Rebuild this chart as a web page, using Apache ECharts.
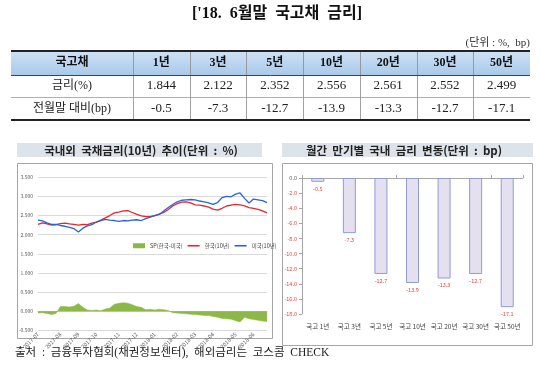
<!DOCTYPE html>
<html><head><meta charset="utf-8">
<script src="https://cdn.jsdelivr.net/npm/echarts@6/dist/echarts.min.js"></script>
<style>html,body{margin:0;padding:0;background:#fff}#c{width:540px;height:367px}</style>
</head><body><div id="c"></div>
<script>
// ---------- data ----------
const pageTitle = "['18.  6월말  국고채  금리]";
const unitText = "(단위 : %,  bp)";
const tableHead = "국고채";
const tenors = ['1년','3년','5년','10년','20년','30년','50년'];
const rowLabels = ['금리(%)','전월말 대비(bp)'];
const rates = ['1.844','2.122','2.352','2.556','2.561','2.552','2.499'];
const changes = [-0.5,-7.3,-12.7,-13.9,-13.3,-12.7,-17.1];
const barCats = ['국고 1년','국고 3년','국고 5년','국고 10년','국고 20년','국고 30년','국고 50년'];
const leftTitle = '국내외  국채금리(10년)  추이(단위  :  %)';
const rightTitle = '월간  만기별  국내  금리  변동(단위  :  bp)';
const sourceText = '출처  :  금융투자협회(채권정보센터),  해외금리는  코스콤  CHECK';
const seriesNames = ['SP(한국-미국)','한국(10년)','미국(10년)'];
const weeks = ['2017-07-03','2017-07-10','2017-07-17','2017-07-24','2017-07-31',
'2017-08-07','2017-08-14','2017-08-21','2017-08-28',
'2017-09-04','2017-09-11','2017-09-18','2017-09-25',
'2017-10-02','2017-10-09','2017-10-16','2017-10-23','2017-10-30',
'2017-11-06','2017-11-13','2017-11-20','2017-11-27',
'2017-12-04','2017-12-11','2017-12-18','2017-12-25',
'2018-01-01','2018-01-08','2018-01-15','2018-01-22','2018-01-29',
'2018-02-05','2018-02-12','2018-02-19','2018-02-26',
'2018-03-05','2018-03-12','2018-03-19','2018-03-26',
'2018-04-02','2018-04-09','2018-04-16','2018-04-23','2018-04-30',
'2018-05-07','2018-05-14','2018-05-21','2018-05-28',
'2018-06-04','2018-06-11','2018-06-18','2018-06-25'];
const monthLabels = ['2017-07','2017-08','2017-09','2017-10','2017-11','2017-12','2018-01','2018-02','2018-03','2018-04','2018-05','2018-06'];
const korea = [2.27,2.31,2.28,2.25,2.26,2.29,2.30,2.28,2.27,2.25,
2.27,2.26,2.30,2.33,2.38,2.44,2.50,2.57,2.59,2.62,
2.63,2.58,2.53,2.49,2.47,2.47,2.50,2.54,2.58,2.66,
2.75,2.81,2.85,2.86,2.83,2.78,2.77,2.75,2.72,2.67,
2.64,2.69,2.75,2.77,2.79,2.78,2.75,2.71,2.69,2.66,
2.62,2.57];
const us = [2.38,2.36,2.31,2.27,2.27,2.24,2.22,2.19,2.16,2.07,
2.17,2.23,2.26,2.33,2.37,2.40,2.38,2.37,2.35,2.37,
2.36,2.38,2.39,2.37,2.42,2.46,2.50,2.53,2.62,2.71,
2.79,2.86,2.90,2.91,2.92,2.91,2.88,2.86,2.83,2.79,
2.84,2.97,3.00,2.99,3.06,3.09,2.95,2.83,2.93,2.91,
2.89,2.84];
const spread = [-0.05,-0.04,-0.06,-0.09,-0.06,0.12,0.12,0.11,0.13,0.20,
0.10,0.03,0.02,0.03,0.01,0.06,0.08,0.18,0.21,0.22,
0.21,0.17,0.12,0.10,0.04,0.05,0.03,0.05,0.04,0.02,
-0.04,-0.05,-0.06,-0.07,-0.08,-0.09,-0.10,-0.11,-0.11,-0.14,
-0.16,-0.19,-0.20,-0.21,-0.25,-0.28,-0.16,-0.20,-0.22,-0.24,
-0.26,-0.27];

// ---------- layout / styles ----------
const SERIF = '"Liberation Serif","Noto Sans CJK KR",serif';
const SANS = '"Noto Sans CJK KR","Noto Sans",sans-serif';
const TX0 = 11, TX1 = 530, FIRSTW = 122;
const colW = (TX1 - TX0 - FIRSTW) / tenors.length;
const RY = [51, 75, 97, 120];

function txt(text, x, y, font, fill, align) {
  return {type:'text', x:x, y:y, silent:true,
    style:{text:text, font:font, fill:fill||'#111', align:align||'center', verticalAlign:'middle',
           textAlign:align||'center', textVerticalAlign:'middle'}};
}
function ln(x1,y1,x2,y2,stroke,w){
  return {type:'line', silent:true, shape:{x1:x1,y1:y1,x2:x2,y2:y2}, style:{stroke:stroke,lineWidth:w}};
}
const g = [];
g.push(txt(pageTitle, 277, 14, 'bold 16px '+SERIF, '#111'));
g.push(txt(unitText, 530, 43, '11px '+SERIF, '#333', 'right'));
// header background
g.push({type:'rect', silent:true, shape:{x:TX0,y:RY[0],width:TX1-TX0,height:RY[1]-RY[0]},
  style:{fill:{type:'linear',x:0,y:0,x2:0,y2:1,colorStops:[{offset:0,color:'#cfe2f5'},{offset:1,color:'#a9c9ea'}]}}});
// vertical separators
for (let i=0;i<tenors.length;i++){
  const x = Math.round(TX0+FIRSTW+i*colW)+0.5;
  g.push(ln(x,RY[0],x,RY[3],'#8a8a8a',0.8));
}
g.push(ln(TX0,RY[1]+0.5,TX1,RY[1]+0.5,'#444',1));
g.push(ln(TX0,RY[2]+0.5,TX1,RY[2]+0.5,'#9a9a9a',0.8));
g.push(ln(TX0,RY[0],TX1,RY[0],'#222',2));
g.push(ln(TX0,RY[3],TX1,RY[3],'#222',2));
// header texts
g.push(txt(tableHead, TX0+FIRSTW/2, (RY[0]+RY[1])/2, 'bold 12px '+SERIF, '#111'));
tenors.forEach((t,i)=>g.push(txt(t, TX0+FIRSTW+(i+0.5)*colW, (RY[0]+RY[1])/2, 'bold 12px '+SERIF, '#111')));
g.push(txt(rowLabels[0], TX0+FIRSTW/2, (RY[1]+RY[2])/2, '12px '+SERIF, '#222'));
g.push(txt(rowLabels[1], TX0+FIRSTW/2, (RY[2]+RY[3])/2, '12px '+SERIF, '#222'));
rates.forEach((r,i)=>g.push(txt(r, TX0+FIRSTW+(i+0.5)*colW, (RY[1]+RY[2])/2, '13px '+SERIF, '#222')));
changes.forEach((c,i)=>g.push(txt(c.toFixed(1), TX0+FIRSTW+(i+0.5)*colW, (RY[2]+RY[3])/2, '13px '+SERIF, '#222')));
// panel title bands
g.push({type:'rect', silent:true, shape:{x:17,y:143,width:245,height:14}, style:{fill:'#dde3ea'}});
g.push({type:'rect', silent:true, shape:{x:282,y:143,width:251,height:14}, style:{fill:'#dde3ea'}});
g.push(txt(leftTitle, 141, 150.5, 'bold 11.5px '+SANS, '#222'));
g.push(txt(rightTitle, 404, 150.5, 'bold 11.5px '+SANS, '#222'));
// chart boxes
g.push({type:'rect', silent:true, z:-1, shape:{x:17.5,y:163.5,width:255,height:175}, style:{fill:'none',stroke:'#a6a6a6',lineWidth:1}});
g.push({type:'rect', silent:true, z:-1, shape:{x:282.5,y:163.5,width:250,height:182}, style:{fill:'none',stroke:'#a6a6a6',lineWidth:1}});
// source
g.push(txt(sourceText, 15, 353, '11.5px '+SERIF, '#222', 'left'));

const chart = echarts.init(document.getElementById('c'));
chart.setOption({
  animation:false,
  backgroundColor:'#fff',
  graphic:{elements:g},
  legend:{
    left:128, top:238, itemWidth:12, itemHeight:5, itemGap:5,
    textStyle:{fontSize:5.5, color:'#404040', fontFamily:SANS},
    data:[
      {name:seriesNames[0], icon:'rect'},
      {name:seriesNames[1], icon:'path://M0,0H12V1.6H0Z'},
      {name:seriesNames[2], icon:'path://M0,0H12V1.6H0Z'}
    ]
  },
  grid:[
    {left:38, right:273, top:177.3, bottom:36.7},
    {left:302, right:17, top:178, bottom:53}
  ],
  xAxis:[
    {gridIndex:0, type:'category', data:weeks, boundaryGap:false,
     axisLine:{onZero:true, lineStyle:{color:'#c8c8c8', width:1}},
     axisTick:{show:false},
     axisLabel:{rotate:45, fontSize:5.5, color:'#595959', margin:3, fontFamily:SANS,
       interval:(idx,val)=> idx===0 || val.slice(0,7)!==weeks[idx-1].slice(0,7),
       formatter:(v)=> monthLabels.indexOf(v.slice(0,7))>=0 ? v.slice(0,7) : ''}},
    {gridIndex:1, type:'category', data:barCats,
     axisLine:{onZero:true, lineStyle:{color:'#a6a6a6'}},
     axisTick:{show:true, inside:true, length:3, lineStyle:{color:'#a6a6a6'}},
     axisLabel:{show:false}},
    {gridIndex:1, type:'category', data:barCats, position:'bottom',
     axisLine:{show:false, onZero:false}, axisTick:{show:false},
     axisLabel:{interval:0, fontSize:6.5, color:'#404040', margin:9, fontFamily:SANS}}
  ],
  yAxis:[
    {gridIndex:0, type:'value', min:-0.5, max:3.5, interval:0.5,
     axisLine:{show:false}, axisTick:{show:false},
     splitLine:{lineStyle:{color:'#d9d9d9', width:1}},
     axisLabel:{fontSize:5, color:'#595959', margin:5, fontFamily:SANS, formatter:(v)=>v.toFixed(3)}},
    {gridIndex:1, type:'value', min:-18, max:0, interval:2,
     axisLine:{show:true, lineStyle:{color:'#a6a6a6'}},
     axisTick:{show:true, length:3, lineStyle:{color:'#a6a6a6'}},
     splitLine:{show:false},
     axisLabel:{fontSize:5.5, margin:5, fontFamily:SANS,
       color:(v)=> Number(v)<0 ? '#e8453c' : '#595959',
       formatter:(v)=> (v===0?0:v).toFixed(1)}}
  ],
  series:[
    {name:seriesNames[0], type:'line', xAxisIndex:0, yAxisIndex:0, data:spread,
     showSymbol:false, symbol:'none', color:'#8cb847',
     lineStyle:{width:0.5, color:'#8cb847'}, areaStyle:{color:'#8cb847', opacity:1}, z:1},
    {name:seriesNames[1], type:'line', xAxisIndex:0, yAxisIndex:0, data:korea,
     showSymbol:false, symbol:'none', color:'#e8262b', lineStyle:{width:1.3, color:'#e8262b'}, z:2},
    {name:seriesNames[2], type:'line', xAxisIndex:0, yAxisIndex:0, data:us,
     showSymbol:false, symbol:'none', color:'#2a63d8', lineStyle:{width:1.3, color:'#2a63d8'}, z:3},
    {name:'월간 변동', type:'bar', xAxisIndex:1, yAxisIndex:1, data:changes, barWidth:13,
     itemStyle:{color:'#e5e0ef', borderColor:'#8e9ccf', borderWidth:1},
     label:{show:true, position:'bottom', distance:4, fontSize:5.5, color:'#e8453c', fontFamily:SANS,
       formatter:(p)=>p.value.toFixed(1)}}
  ]
});
</script>
</body></html>
